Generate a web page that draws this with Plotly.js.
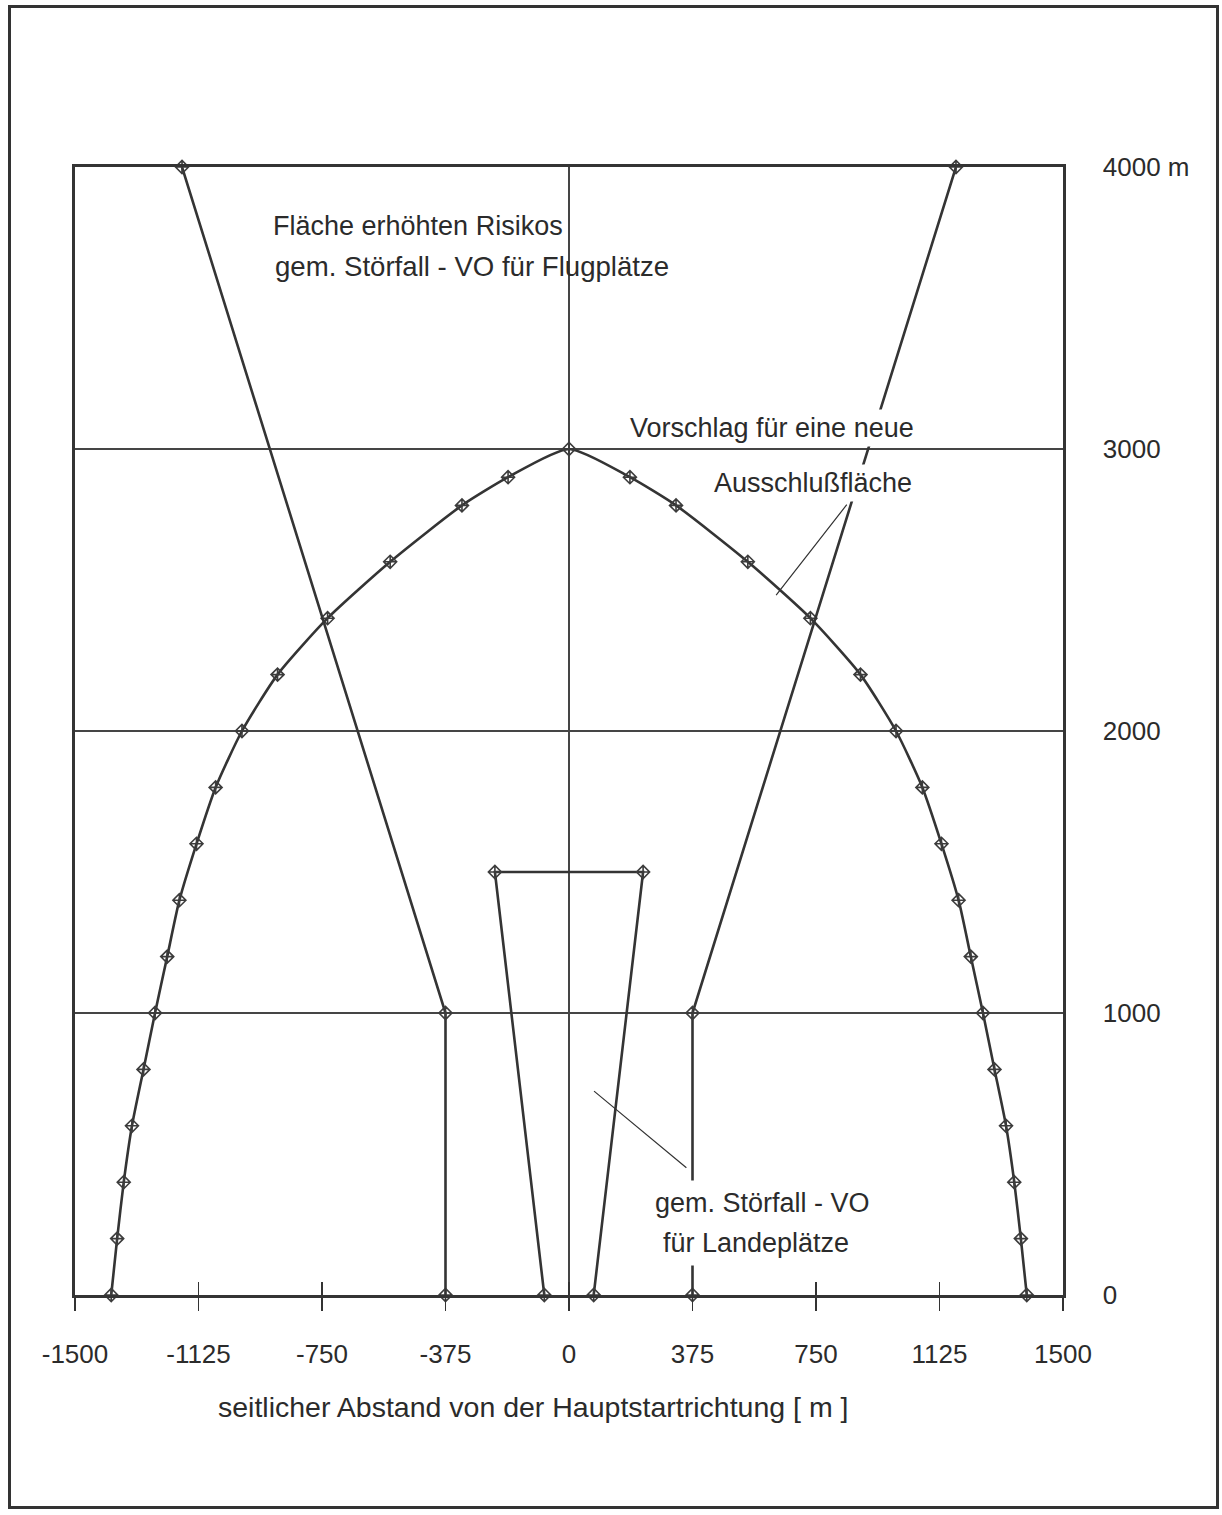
<!DOCTYPE html>
<html>
<head>
<meta charset="utf-8">
<script src="https://cdn.plot.ly/plotly-3.0.1.min.js"></script>
<style>
  html, body { margin: 0; padding: 0; background: #ffffff; }
  #chart { position: absolute; left: 0; top: 0; width: 1222px; height: 1515px; }
  #frame { position: absolute; left: 8px; top: 5px; width: 1205px; height: 1498px;
           border: 3px solid #333333; pointer-events: none; z-index: 10; }
</style>
</head>
<body>
<div id="chart"></div>
<div id="frame"></div>
<script>
// ---- tick labels ----
const xTickVals = [-1500, -1125, -750, -375, 0, 375, 750, 1125, 1500];
const xTickText = ['-1500', '-1125', '-750', '-375', '0', '375', '750', '1125', '1500'];
const yTickVals = [0, 1000, 2000, 3000, 4000];
const yTickText = ['0', '1000', '2000', '3000', '4000 m'];

// ---- proposal curve: "Vorschlag für eine neue Ausschlußfläche" ----
const curveX = [-1390, -1372, -1352, -1327, -1292, -1257, -1220, -1183, -1131, -1073, -993, -885, -733, -543, -325, -185,
                0,
                185, 325, 543, 733, 885, 993, 1073, 1131, 1183, 1220, 1257, 1292, 1327, 1352, 1372, 1390];
const curveY = [0, 200, 400, 600, 800, 1000, 1200, 1400, 1600, 1800, 2000, 2200, 2400, 2600, 2800, 2900,
                3000,
                2900, 2800, 2600, 2400, 2200, 2000, 1800, 1600, 1400, 1200, 1000, 800, 600, 400, 200, 0];

// ---- Störfall-VO für Flugplätze (left and right boundary) ----
const flugLeftX = [-1175, -375, -375];
const flugLeftY = [4000, 1000, 0];
const flugRightX = [1175, 375, 375];
const flugRightY = [4000, 1000, 0];

// ---- Störfall-VO für Landeplätze (trapezoid) ----
const landeX = [-75, -225, 225, 75];
const landeY = [0, 1500, 1500, 0];

// ---- label texts ----
const labelFlug1 = 'Fläche erhöhten Risikos';
const labelFlug2 = 'gem. Störfall - VO für Flugplätze';
const labelNeu1 = 'Vorschlag für eine neue';
const labelNeu2 = 'Ausschlußfläche';
const labelLande1 = 'gem. Störfall - VO';
const labelLande2 = 'für Landeplätze';
const xTitle = 'seitlicher Abstand von der Hauptstartrichtung [ m ]';

const FONT = 'Liberation Sans, Arial, sans-serif';
const INK = '#2b2b2b';
const LINE = '#343434';

const markerStyle = { symbol: 'diamond-cross-open', size: 10, color: '#3c3c3c', line: { width: 1.6, color: '#3c3c3c' } };

function seriesTrace(x, y, shape) {
  return {
    type: 'scatter', mode: 'lines+markers', x: x, y: y,
    line: { color: LINE, width: 2.6, shape: shape || 'linear', smoothing: 0.6 },
    marker: markerStyle, cliponaxis: false, showlegend: false, hoverinfo: 'skip'
  };
}

const traces = [
  seriesTrace(curveX, curveY, 'spline'),
  seriesTrace(flugLeftX, flugLeftY),
  seriesTrace(flugRightX, flugRightY),
  seriesTrace(landeX, landeY),
  { type: 'scatter', mode: 'markers', x: [], y: [], xaxis: 'x2', yaxis: 'y', showlegend: false, hoverinfo: 'skip' }
];

function textNote(text, x, y, white, size) {
  const a = {
    text: text, x: x, y: y, xref: 'x', yref: 'y', xanchor: 'left', yanchor: 'middle',
    showarrow: false, font: { family: FONT, size: size || 27, color: INK }
  };
  if (white) { a.bgcolor = '#ffffff'; a.borderpad = 3; }
  return a;
}

function leader(x, y, ax, ay) {
  return {
    text: '', x: x, y: y, ax: ax, ay: ay, xref: 'x', yref: 'y', axref: 'x', ayref: 'y',
    showarrow: true, arrowhead: 0, arrowwidth: 1.2, arrowcolor: '#333333', standoff: 0, startstandoff: 0
  };
}

const annotations = [
  textNote(labelFlug1, -905, 3790, false),
  textNote(labelFlug2, -900, 3648, false, 27.6),
  textNote(labelNeu1, 173, 3074, true),
  textNote(labelNeu2, 428, 2879, true),
  Object.assign(textNote(labelLande1, 237, 326, true), { borderpad: 7 }),
  Object.assign(textNote(labelLande2, 261, 186, true), { borderpad: 7 }),
  leader(629, 2482, 847, 2808),
  leader(76, 723, 361, 447),
  {
    text: xTitle, xref: 'paper', yref: 'paper', x: 0.4636, y: -0.099,
    xanchor: 'center', yanchor: 'middle', showarrow: false,
    font: { family: FONT, size: 28.5, color: INK }
  }
];

const layout = {
  width: 1222, height: 1515,
  margin: { l: 75, r: 159, t: 167, b: 220, pad: 0 },
  paper_bgcolor: '#ffffff', plot_bgcolor: '#ffffff',
  showlegend: false,
  font: { family: FONT, color: INK },
  xaxis: {
    range: [-1500, 1500], tickmode: 'array', tickvals: xTickVals, ticktext: xTickText,
    ticks: 'outside', ticklen: 13, tickwidth: 1.5, tickcolor: '#333333',
    showline: true, linewidth: 2.6, linecolor: LINE, mirror: true,
    showgrid: false, zeroline: true, zerolinecolor: '#454545', zerolinewidth: 1.3,
    tickfont: { family: FONT, size: 26, color: INK }, ticklabelstandoff: 21,
    fixedrange: true
  },
  xaxis2: {
    overlaying: 'x', anchor: 'y', side: 'bottom',
    range: [-1500, 1500], tickmode: 'array', tickvals: xTickVals,
    ticks: 'inside', ticklen: 13, tickwidth: 1.5, tickcolor: '#333333',
    showticklabels: false, showline: false, showgrid: false, zeroline: false, fixedrange: true
  },
  yaxis: {
    range: [0, 4000], side: 'right', tickmode: 'array', tickvals: yTickVals, ticktext: yTickText,
    ticks: '', showline: true, linewidth: 2.6, linecolor: LINE, mirror: true,
    showgrid: true, gridcolor: '#454545', gridwidth: 1.3, zeroline: false,
    tickfont: { family: FONT, size: 26, color: INK }, ticklabelstandoff: 32,
    fixedrange: true
  },
  annotations: annotations
};

Plotly.newPlot('chart', traces, layout, { staticPlot: true, displayModeBar: false });
</script>
</body>
</html>
